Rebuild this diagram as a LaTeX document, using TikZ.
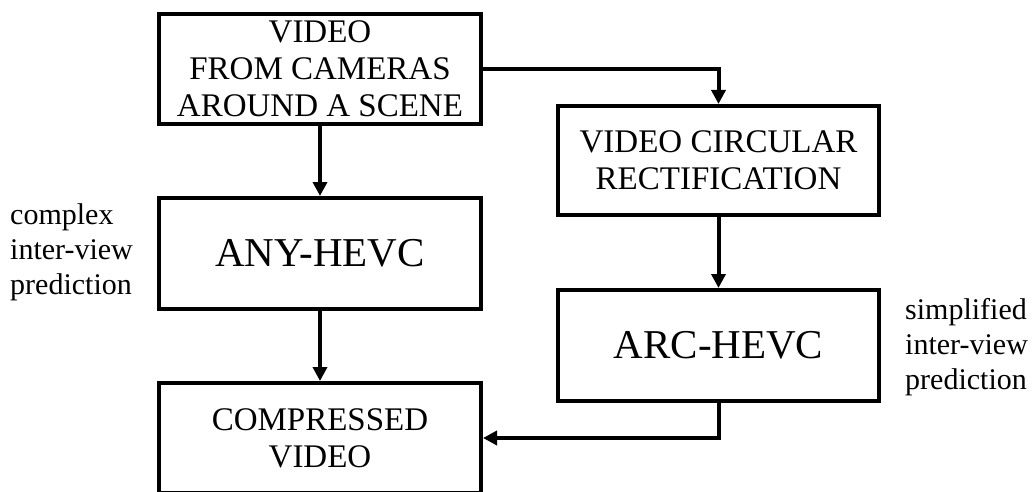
\documentclass[tikz,border=0pt]{standalone}
\usepackage{fontspec}
\setmainfont{Liberation Serif}
\usetikzlibrary{arrows.meta}
\begin{document}
\begin{tikzpicture}[x=1pt,y=-1pt,
  box/.style={draw=black,line width=4pt,rectangle,inner sep=0pt,align=center,
    font=\fontsize{33}{37}\selectfont},
  bigbox/.style={box,font=\fontsize{41}{45}\selectfont},
  flow/.style={line width=4pt,-{Triangle[length=14pt,width=14pt]}},
  note/.style={align=left,inner sep=0pt,anchor=west,font=\fontsize{30}{35}\selectfont}]
\useasboundingbox (0,0) rectangle (1036,492);
\clip (0,0) rectangle (1036,492);
\node[box,minimum width=322pt,minimum height=110pt] (src) at (320,69) {VIDEO\\FROM CAMERAS\\AROUND A SCENE};
\node[bigbox,minimum width=322pt,minimum height=111pt] (any) at (320,253.5) {ANY-HEVC};
\node[box,minimum width=322pt,minimum height=110pt] (comp) at (320,438) {COMPRESSED\\VIDEO};
\node[box,minimum width=321pt,minimum height=109pt] (rect) at (718.5,160.5) {VIDEO CIRCULAR\\RECTIFICATION};
\node[bigbox,minimum width=321pt,minimum height=111pt] (arc) at (718.5,345.5) {ARC-HEVC};
\node[note] (lnote) at (10,252) {complex\\inter-view\\prediction};
\node[note] (rnote) at (905,347) {simplified\\inter-view\\prediction};
\draw[flow] (src.south) -- (any.north);
\draw[flow] (any.south) -- (comp.north);
\draw[flow] (src.east) -| (rect.north);
\draw[flow] (rect.south) -- (arc.north);
\draw[flow] (arc.south) |- (comp.east);
\end{tikzpicture}
\end{document}
